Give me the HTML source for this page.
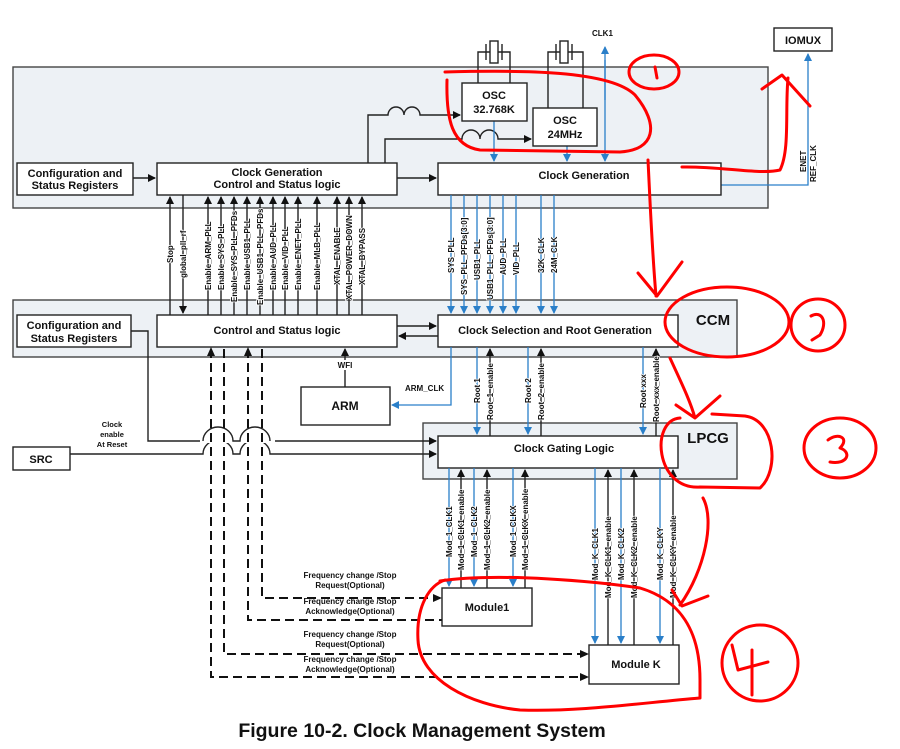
<!DOCTYPE html>
<html><head><meta charset="utf-8"><style>
html,body{margin:0;padding:0;background:#fff}
svg{display:block}
text{font-family:"Liberation Sans",sans-serif;font-weight:bold;fill:#111}
.v{font-size:8px;paint-order:stroke;stroke:#fff;stroke-width:1.5px}
.b{font-size:11px}
.k{stroke:#222;stroke-width:1.4;fill:none}
.bl{stroke:#2a7fc9;stroke-width:1.3;fill:none}
.d{stroke:#111;stroke-width:2;fill:none;stroke-dasharray:9 5}
.box{fill:#fff;stroke:#222;stroke-width:1.4}
.pan{fill:#edf1f5;stroke:#444;stroke-width:1.4}
.r{stroke:#f00;stroke-width:3;fill:none;stroke-linecap:round;stroke-linejoin:round}
</style></head><body>
<svg width="900" height="749" viewBox="0 0 900 749" xmlns="http://www.w3.org/2000/svg">
<defs>
<marker id="ak" markerWidth="8" markerHeight="8" refX="7" refY="4" orient="auto" markerUnits="userSpaceOnUse"><path d="M0,0 L8,4 L0,8z" fill="#111"/></marker>
<marker id="ab" markerWidth="8" markerHeight="8" refX="7" refY="4" orient="auto" markerUnits="userSpaceOnUse"><path d="M0,0 L8,4 L0,8z" fill="#2a7fc9"/></marker>
</defs>

<rect class="pan" x="13" y="67" width="755" height="141"/>
<rect class="pan" x="13" y="300" width="724" height="57"/>
<rect class="pan" x="423" y="423" width="314" height="56"/>

<g class="k">
<path d="M478,83 V52 H490 M498,52 H510 V83"/>
<rect x="490" y="41" width="8" height="22" fill="#fff"/>
<path d="M486,44 V60 M502,44 V60"/>
<path d="M548,108 V52 H560 M568,52 H583 V108"/>
<rect x="560" y="41" width="8" height="22" fill="#fff"/>
<path d="M556,44 V60 M572,44 V60"/>
</g>

<path class="k" d="M368,163 V115 H388 A8,8 0 0 1 404,115 A8,8 0 0 1 420,115 H460" marker-end="url(#ak)"/>
<path class="k" d="M385,163 V139 H462 A9,9 0 0 1 480,139 A9,9 0 0 1 498,139 H531" marker-end="url(#ak)"/>
<path class="k" d="M133,178 H155" marker-end="url(#ak)"/>
<path class="k" d="M397,178 H436" marker-end="url(#ak)"/>
<path class="bl" d="M494,121 V161" marker-end="url(#ab)"/>
<path class="bl" d="M567,146 V161" marker-end="url(#ab)"/>
<path class="bl" d="M605,60 V161" marker-end="url(#ab)"/>
<path class="bl" d="M605,100 V47" marker-end="url(#ab)"/>
<path class="bl" d="M721,185 H808 V54" marker-end="url(#ab)"/>
<text x="592" y="36" style="font-size:8px">CLK1</text>
<rect class="box" x="774" y="28" width="58" height="23"/>
<text class="b" x="803" y="44" text-anchor="middle">IOMUX</text>
<text class="v" transform="translate(806,172) rotate(-90)">ENET</text>
<text class="v" transform="translate(816,182) rotate(-90)">REF_CLK</text>

<rect class="box" x="462" y="83" width="65" height="38"/>
<text class="b" x="494" y="99" text-anchor="middle">OSC</text>
<text class="b" x="494" y="113" text-anchor="middle">32.768K</text>
<rect class="box" x="533" y="108" width="64" height="38"/>
<text class="b" x="565" y="124" text-anchor="middle">OSC</text>
<text class="b" x="565" y="138" text-anchor="middle">24MHz</text>

<rect class="box" x="17" y="163" width="116" height="32"/>
<text class="b" x="75" y="177" text-anchor="middle">Configuration and</text>
<text class="b" x="75" y="189" text-anchor="middle">Status Registers</text>
<rect class="box" x="157" y="163" width="240" height="32"/>
<text class="b" x="277" y="176" text-anchor="middle">Clock Generation</text>
<text class="b" x="277" y="188" text-anchor="middle">Control and Status logic</text>
<rect class="box" x="438" y="163" width="283" height="32"/>
<text class="b" x="584" y="179" text-anchor="middle">Clock Generation</text>

<g class="k">
<path d="M170,315 V197" marker-end="url(#ak)"/>
<path d="M183,195 V313" marker-end="url(#ak)"/>
<path d="M208,315 V197" marker-end="url(#ak)"/>
<path d="M221,315 V197" marker-end="url(#ak)"/>
<path d="M234,315 V197" marker-end="url(#ak)"/>
<path d="M247,315 V197" marker-end="url(#ak)"/>
<path d="M260,315 V197" marker-end="url(#ak)"/>
<path d="M273,315 V197" marker-end="url(#ak)"/>
<path d="M285,315 V197" marker-end="url(#ak)"/>
<path d="M298,315 V197" marker-end="url(#ak)"/>
<path d="M317,315 V197" marker-end="url(#ak)"/>
<path d="M337,315 V197" marker-end="url(#ak)"/>
<path d="M349,315 V197" marker-end="url(#ak)"/>
<path d="M362,315 V197" marker-end="url(#ak)"/>
</g>
<text class="v" transform="translate(173,263) rotate(-90)">Stop</text>
<text class="v" transform="translate(186,278) rotate(-90)">global_pll_rf</text>
<text class="v" transform="translate(211,290) rotate(-90)">Enable_ARM_PLL</text>
<text class="v" transform="translate(224,290) rotate(-90)">Enable_SYS_PLL</text>
<text class="v" transform="translate(237,302) rotate(-90)">Enable_SYS_PLL_PFDs</text>
<text class="v" transform="translate(250,290) rotate(-90)">Enable_USB1_PLL</text>
<text class="v" transform="translate(263,305) rotate(-90)">Enable_USB1_PLL_PFDs</text>
<text class="v" transform="translate(276,290) rotate(-90)">Enable_AUD_PLL</text>
<text class="v" transform="translate(288,290) rotate(-90)">Enable_VID_PLL</text>
<text class="v" transform="translate(301,290) rotate(-90)">Enable_ENET_PLL</text>
<text class="v" transform="translate(320,290) rotate(-90)">Enable_MLB_PLL</text>
<text class="v" transform="translate(340,285) rotate(-90)">XTAL_ENABLE</text>
<text class="v" transform="translate(352,300) rotate(-90)">XTAL_POWER_DOWN</text>
<text class="v" transform="translate(365,285) rotate(-90)">XTAL_BYPASS</text>

<g class="bl">
<path d="M451,195 V313" marker-end="url(#ab)"/>
<path d="M464,195 V313" marker-end="url(#ab)"/>
<path d="M477,195 V313" marker-end="url(#ab)"/>
<path d="M490,195 V313" marker-end="url(#ab)"/>
<path d="M503,195 V313" marker-end="url(#ab)"/>
<path d="M516,195 V313" marker-end="url(#ab)"/>
<path d="M541,195 V313" marker-end="url(#ab)"/>
<path d="M554,195 V313" marker-end="url(#ab)"/>
</g>
<text class="v" transform="translate(454,273) rotate(-90)">SYS_PLL</text>
<text class="v" transform="translate(467,295) rotate(-90)">SYS_PLL_PFDs[3:0]</text>
<text class="v" transform="translate(480,280) rotate(-90)">USB1_PLL</text>
<text class="v" transform="translate(493,300) rotate(-90)">USB1_PLL_PFDs[3:0]</text>
<text class="v" transform="translate(506,275) rotate(-90)">AUD_PLL</text>
<text class="v" transform="translate(519,275) rotate(-90)">VID_PLL</text>
<text class="v" transform="translate(544,273) rotate(-90)">32K_CLK</text>
<text class="v" transform="translate(557,273) rotate(-90)">24M_CLK</text>

<rect class="box" x="17" y="315" width="114" height="32"/>
<text class="b" x="74" y="329" text-anchor="middle">Configuration and</text>
<text class="b" x="74" y="342" text-anchor="middle">Status Registers</text>
<rect class="box" x="157" y="315" width="240" height="32"/>
<text class="b" x="277" y="334" text-anchor="middle">Control and Status logic</text>
<rect class="box" x="438" y="315" width="240" height="32"/>
<text class="b" x="555" y="334" text-anchor="middle">Clock Selection and Root Generation</text>
<text x="713" y="325" text-anchor="middle" style="font-size:15px">CCM</text>
<path class="k" d="M397,326 H436" marker-end="url(#ak)"/>
<path class="k" d="M438,336 H399" marker-end="url(#ak)"/>
<path class="k" d="M131,331 H148 V441 H436" marker-end="url(#ak)"/>
<path class="k" d="M345,387 V349" marker-end="url(#ak)"/>
<rect x="335" y="360" width="20" height="10" fill="#fff"/>
<text x="345" y="368" text-anchor="middle" style="font-size:8px">WFI</text>

<rect class="box" x="301" y="387" width="89" height="38"/>
<text x="345" y="410" text-anchor="middle" style="font-size:12px">ARM</text>
<path class="bl" d="M451,347 V405 H392" marker-end="url(#ab)"/>
<text x="405" y="391" style="font-size:8px">ARM_CLK</text>

<path class="bl" d="M477,347 V434" marker-end="url(#ab)"/>
<path class="k" d="M490,436 V349" marker-end="url(#ak)"/>
<path class="bl" d="M528,347 V434" marker-end="url(#ab)"/>
<path class="k" d="M541,436 V349" marker-end="url(#ak)"/>
<path class="bl" d="M643,347 V434" marker-end="url(#ab)"/>
<path class="k" d="M656,436 V349" marker-end="url(#ak)"/>
<text class="v" transform="translate(480,403) rotate(-90)">Root 1</text>
<text class="v" transform="translate(493,420) rotate(-90)">Root_1_enable</text>
<text class="v" transform="translate(531,403) rotate(-90)">Root 2</text>
<text class="v" transform="translate(544,420) rotate(-90)">Root_2_enable</text>
<text class="v" transform="translate(646,408) rotate(-90)">Root xxx</text>
<text class="v" transform="translate(659,422) rotate(-90)">Root_xxx_enable</text>

<rect class="box" x="13" y="447" width="57" height="23"/>
<text x="41" y="463" text-anchor="middle" style="font-size:11px">SRC</text>
<path class="k" d="M70,454 H203 A15,14 0 0 1 233,454 H240 A15,14 0 0 1 270,454 H436" marker-end="url(#ak)"/>
<rect x="200" y="438" width="75" height="5" fill="#fff"/>
<path class="k" d="M203,441 A15,14 0 0 1 233,441 H240 A15,14 0 0 1 270,441"/>
<text x="112" y="427" text-anchor="middle" style="font-size:7.5px">Clock</text>
<text x="112" y="437" text-anchor="middle" style="font-size:7.5px">enable</text>
<text x="112" y="447" text-anchor="middle" style="font-size:7.5px">At Reset</text>

<rect class="box" x="438" y="436" width="240" height="32"/>
<text class="b" x="564" y="452" text-anchor="middle">Clock Gating Logic</text>
<text x="708" y="443" text-anchor="middle" style="font-size:15px">LPCG</text>

<path class="d" d="M211,349 V677 H586"/>
<path class="d" d="M224,349 V654 H586"/>
<path class="d" d="M248,349 V620 H442"/>
<path class="d" d="M262,349 V598 H440"/>
<path d="M211,347 l-4,9 h8z M248,347 l-4,9 h8z M442,598 l-9,-4 v8z M589,654 l-9,-4 v8z M589,677 l-9,-4 v8z" fill="#111"/>
<g style="font-size:8px" text-anchor="middle">
<text x="350" y="578">Frequency change /Stop</text>
<text x="350" y="588">Request(Optional)</text>
<text x="350" y="604">Frequency change /Stop</text>
<text x="350" y="614">Acknowledge(Optional)</text>
<text x="350" y="637">Frequency change /Stop</text>
<text x="350" y="647">Request(Optional)</text>
<text x="350" y="662">Frequency change /Stop</text>
<text x="350" y="672">Acknowledge(Optional)</text>
</g>

<path class="bl" d="M449,468 V586" marker-end="url(#ab)"/>
<path class="k" d="M461,588 V470" marker-end="url(#ak)"/>
<path class="bl" d="M474,468 V586" marker-end="url(#ab)"/>
<path class="k" d="M487,588 V470" marker-end="url(#ak)"/>
<path class="bl" d="M513,468 V586" marker-end="url(#ab)"/>
<path class="k" d="M525,588 V470" marker-end="url(#ak)"/>
<text class="v" transform="translate(452,557) rotate(-90)">Mod_1_CLK1</text>
<text class="v" transform="translate(464,570) rotate(-90)">Mod_1_CLK1_enable</text>
<text class="v" transform="translate(477,557) rotate(-90)">Mod_1_CLK2</text>
<text class="v" transform="translate(490,570) rotate(-90)">Mod_1_CLK2_enable</text>
<text class="v" transform="translate(516,557) rotate(-90)">Mod_1_CLKX</text>
<text class="v" transform="translate(528,570) rotate(-90)">Mod_1_CLKX_enable</text>

<path class="bl" d="M595,468 V643" marker-end="url(#ab)"/>
<path class="k" d="M608,645 V470" marker-end="url(#ak)"/>
<path class="bl" d="M621,468 V643" marker-end="url(#ab)"/>
<path class="k" d="M634,645 V470" marker-end="url(#ak)"/>
<path class="bl" d="M660,468 V643" marker-end="url(#ab)"/>
<path class="k" d="M673,645 V470" marker-end="url(#ak)"/>
<text class="v" transform="translate(598,580) rotate(-90)">Mod_K_CLK1</text>
<text class="v" transform="translate(611,598) rotate(-90)">Mod_K_CLK1_enable</text>
<text class="v" transform="translate(624,580) rotate(-90)">Mod_K_CLK2</text>
<text class="v" transform="translate(637,598) rotate(-90)">Mod_K_CLK2_enable</text>
<text class="v" transform="translate(663,580) rotate(-90)">Mod_K_CLKY</text>
<text class="v" transform="translate(676,598) rotate(-90)">Mod_K_CLKY_enable</text>

<rect class="box" x="442" y="588" width="90" height="38"/>
<text x="487" y="611" text-anchor="middle" style="font-size:11px">Module1</text>
<rect class="box" x="589" y="645" width="90" height="39"/>
<text x="636" y="668" text-anchor="middle" style="font-size:11px">Module K</text>

<text x="422" y="737" text-anchor="middle" style="font-size:19.5px">Figure 10-2. Clock Management System</text>

<g class="r">
<path d="M445,72 C520,70 610,70 635,95 C660,125 655,150 620,152 L480,150 C452,146 446,120 447,80"/>
<ellipse cx="654" cy="72" rx="25" ry="17"/>
<path d="M655,67 L657,78"/>
<path d="M682,167 C720,166 760,175 780,170 C790,150 785,110 788,78 M762,89 L782,75 L810,106"/>
<path d="M648,160 C650,200 652,250 656,296 M638,273 L657,296 L682,262"/>
<ellipse cx="727" cy="322" rx="62" ry="35"/>
<ellipse cx="818" cy="325" rx="27" ry="26"/>
<path d="M811,316 C822,310 828,322 820,335 L812,340"/>
<path d="M670,358 C680,380 690,400 695,418 M676,405 L695,418 L720,396"/>
<path d="M680,418 C650,420 655,490 700,487 L760,488 C780,470 775,420 745,416 L712,414"/>
<ellipse cx="840" cy="448" rx="36" ry="30"/>
<path d="M828,440 C838,432 850,438 840,448 C852,452 848,465 830,462"/>
<path d="M703,498 C715,520 705,570 680,605 M672,590 L682,606 L708,596"/>
<path d="M440,581 C500,572 600,582 640,588 C680,600 700,630 700,680 L700,698 C640,703 580,712 520,710 C470,705 420,680 418,640 C416,605 430,585 445,580"/>
<ellipse cx="760" cy="663" rx="38" ry="38"/>
<path d="M732,645 L738,670 L768,662 M752,650 L752,695"/>
</g>
</svg>
</body></html>
